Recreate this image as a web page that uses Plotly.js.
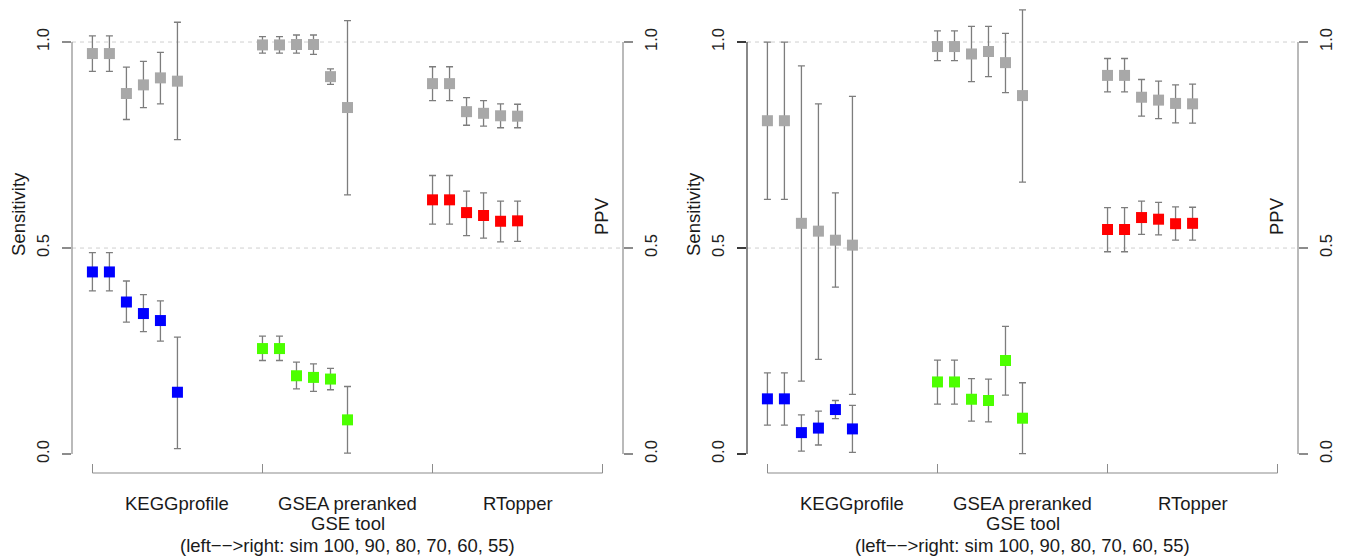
<!DOCTYPE html>
<html>
<head>
<meta charset="utf-8">
<script src="https://cdn.plot.ly/plotly-3.0.1.min.js"></script>
<style>html,body{margin:0;padding:0;background:#fff;}#chart{width:1346px;height:558px;}</style>
</head>
<body>
<div id="chart"></div>
<script>
// ---------- data ----------
const tools = ['KEGGprofile', 'GSEA preranked', 'RTopper'];
const simLevels = [100, 90, 80, 70, 60, 55];
const yTickVals = [0, 0.5, 1];
const yTickText = ['0.0', '0.5', '1.0'];
const gridVals = [0.5, 1.0];
const groupTickVals = [0, 10, 20, 30];
const yLeftTitle = 'Sensitivity';
const yRightTitle = 'PPV';
const xTitleLines = ['GSE tool', '(left\u2212\u2212>right: sim 100, 90, 80, 70, 60, 55)'];

// left panel (rows: KEGGprofile, GSEA preranked, RTopper; columns: sim 100..55)
const leftPpvMean = [[0.972,0.972,0.875,0.896,0.913,0.905],[0.993,0.993,0.994,0.994,0.916,0.841],[0.899,0.899,0.831,0.827,0.821,0.820]];
const leftPpvLow  = [[0.929,0.929,0.812,0.841,0.850,0.763],[0.973,0.973,0.973,0.970,0.897,0.629],[0.858,0.858,0.798,0.796,0.792,0.792]];
const leftPpvHigh = [[1.015,1.015,0.939,0.953,0.975,1.048],[1.013,1.013,1.017,1.017,0.935,1.052],[0.940,0.940,0.865,0.858,0.850,0.849]];
const leftSensMean = [[0.442,0.442,0.369,0.341,0.324,0.150],[0.256,0.256,0.190,0.186,0.182,0.083],[0.617,0.617,0.586,0.579,0.565,0.566]];
const leftSensLow  = [[0.396,0.396,0.320,0.297,0.274,0.013],[0.227,0.227,0.158,0.152,0.156,0.002],[0.558,0.558,0.530,0.524,0.515,0.516]];
const leftSensHigh = [[0.489,0.489,0.420,0.387,0.372,0.284],[0.286,0.286,0.223,0.219,0.208,0.164],[0.676,0.676,0.638,0.634,0.614,0.614]];

// right panel
const rightPpvMean = [[0.809,0.809,0.560,0.541,0.519,0.507],[0.989,0.989,0.971,0.977,0.950,0.870],[0.919,0.919,0.866,0.859,0.851,0.850]];
const rightPpvLow  = [[0.618,0.618,0.177,0.230,0.405,0.145],[0.955,0.955,0.904,0.916,0.877,0.660],[0.879,0.879,0.820,0.814,0.804,0.803]];
const rightPpvHigh = [[1.000,1.000,0.942,0.850,0.634,0.868],[1.027,1.027,1.038,1.038,1.021,1.078],[0.960,0.960,0.909,0.905,0.896,0.898]];
const rightSensMean = [[0.134,0.134,0.052,0.063,0.108,0.061],[0.175,0.175,0.133,0.130,0.227,0.087],[0.545,0.545,0.574,0.570,0.559,0.560]];
const rightSensLow  = [[0.070,0.070,0.007,0.022,0.086,0.004],[0.121,0.121,0.080,0.078,0.143,0.001],[0.491,0.491,0.533,0.532,0.519,0.519]];
const rightSensHigh = [[0.197,0.197,0.095,0.104,0.130,0.118],[0.228,0.228,0.183,0.182,0.310,0.173],[0.598,0.598,0.614,0.611,0.600,0.599]];

// ---------- styling ----------
const W = 1346, H = 558;
const FONT = 'Liberation Sans, Arial, sans-serif';
const ppvColor = '#a8a8a8';
const sensColors = ['#0000ff', '#4cff00', '#ff0000'];
const errColor = '#7d7d7d';
const axisGray = '#8c8c8c';
const plotTopPx = 0, plotBotPx = 473;
const yRange = [-0.046, 1.102];
const xRange = [-1.2, 31.2];
const panels = [
  {xa: 'x', ya: 'y', yr: 'y3', l: 72, r: 623, leftAxisColor: axisGray,
   ppv: [leftPpvMean, leftPpvLow, leftPpvHigh], sens: [leftSensMean, leftSensLow, leftSensHigh]},
  {xa: 'x2', ya: 'y2', yr: 'y4', l: 747, r: 1298, leftAxisColor: '#3a3a3a',
   ppv: [rightPpvMean, rightPpvLow, rightPpvHigh], sens: [rightSensMean, rightSensLow, rightSensHigh]}
];

function xPos(g, i) { return g * 10 + i; }

const traces = [];
const shapes = [];
const annotations = [];

panels.forEach((p, pi) => {
  // Sensitivity (coloured by tool) on the left axis
  tools.forEach((t, g) => {
    const sx = [], sy = [], su = [], sd = [];
    simLevels.forEach((s, i) => {
      sx.push(xPos(g, i));
      sy.push(p.sens[0][g][i]);
      su.push(p.sens[2][g][i] - p.sens[0][g][i]);
      sd.push(p.sens[0][g][i] - p.sens[1][g][i]);
    });
    traces.push({
      type: 'scatter', mode: 'markers', x: sx, y: sy, xaxis: p.xa, yaxis: p.ya,
      name: t + ' sensitivity', hoverinfo: 'x+y',
      marker: {symbol: 'square', size: 11, color: sensColors[g], line: {width: 0}},
      error_y: {type: 'data', symmetric: false, array: su, arrayminus: sd,
                color: errColor, thickness: 1.3, width: 3.5}
    });
  });
  // PPV (gray) on the right axis
  const px = [], py = [], pu = [], pd = [];
  tools.forEach((t, g) => simLevels.forEach((s, i) => {
    px.push(xPos(g, i));
    py.push(p.ppv[0][g][i]);
    pu.push(p.ppv[2][g][i] - p.ppv[0][g][i]);
    pd.push(p.ppv[0][g][i] - p.ppv[1][g][i]);
  }));
  traces.push({
    type: 'scatter', mode: 'markers', x: px, y: py, xaxis: p.xa, yaxis: p.yr,
    name: 'PPV', hoverinfo: 'x+y',
    marker: {symbol: 'square', size: 11, color: ppvColor, line: {width: 0}},
    error_y: {type: 'data', symmetric: false, array: pu, arrayminus: pd,
              color: errColor, thickness: 1.3, width: 3.5}
  });

  // dashed reference lines
  gridVals.forEach(v => shapes.push({
    type: 'line', layer: 'below', xref: p.xa + ' domain', yref: p.ya,
    x0: 0, x1: 1, y0: v, y1: v,
    line: {color: '#cfcfcf', width: 1, dash: '4px,4px'}
  }));
  // left and right axis lines (0..1 only)
  shapes.push({type: 'line', xref: 'paper', yref: p.ya, x0: p.l / W, x1: p.l / W,
    y0: yTickVals[0], y1: yTickVals[yTickVals.length - 1], line: {color: p.leftAxisColor, width: 1.2}});
  shapes.push({type: 'line', xref: 'paper', yref: p.ya, x0: p.r / W, x1: p.r / W,
    y0: yTickVals[0], y1: yTickVals[yTickVals.length - 1], line: {color: axisGray, width: 1.2}});
  // bottom bracket axis
  shapes.push({type: 'line', xref: p.xa, yref: 'paper', x0: groupTickVals[0],
    x1: groupTickVals[groupTickVals.length - 1], y0: 0, y1: 0, line: {color: axisGray, width: 1.2}});

  // titles
  annotations.push({xref: 'paper', yref: 'paper', x: (p.l - 54) / W, y: (plotBotPx - 214) / plotBotPx,
    text: yLeftTitle, textangle: -90, showarrow: false, xanchor: 'center', yanchor: 'middle',
    font: {family: FONT, size: 18.5, color: '#1a1a1a'}});
  annotations.push({xref: 'paper', yref: 'paper', x: (p.r - 21) / W, y: (plotBotPx - 216) / plotBotPx,
    text: yRightTitle, textangle: -90, showarrow: false, xanchor: 'center', yanchor: 'middle',
    font: {family: FONT, size: 18.5, color: '#1a1a1a'}});
  tools.forEach((t, g) => annotations.push({xref: p.xa, yref: 'paper',
    x: (groupTickVals[g] + groupTickVals[g + 1]) / 2, y: 0, yshift: -30,
    text: t, showarrow: false, xanchor: 'center', yanchor: 'middle',
    font: {family: FONT, size: 18.5, color: '#1a1a1a'}}));
  xTitleLines.forEach((line, k) => annotations.push({xref: p.xa, yref: 'paper',
    x: (groupTickVals[0] + groupTickVals[groupTickVals.length - 1]) / 2, y: 0, yshift: -50 - k * 22,
    text: line, showarrow: false, xanchor: 'center', yanchor: 'middle',
    font: {family: FONT, size: 18.5, color: '#1a1a1a'}}));
});

function yAx(extra) {
  return Object.assign({
    range: yRange, domain: [0, 1], tickvals: yTickVals, ticktext: yTickText,
    ticks: 'outside', ticklen: 9, tickwidth: 1.2, tickcolor: axisGray, tickangle: -90,
    ticklabelstandoff: 6,
    showgrid: false, zeroline: false, showline: false, fixedrange: true,
    tickfont: {family: FONT, size: 16.5, color: '#222'}
  }, extra);
}
function xAx(extra) {
  return Object.assign({
    range: xRange, tickvals: groupTickVals, showticklabels: false,
    ticks: 'inside', ticklen: 9, tickwidth: 1.2, tickcolor: axisGray,
    showgrid: false, zeroline: false, showline: false, fixedrange: true
  }, extra);
}

const layout = {
  width: W, height: H,
  margin: {l: 0, r: 0, t: plotTopPx, b: H - plotBotPx, pad: 0},
  paper_bgcolor: '#ffffff', plot_bgcolor: '#ffffff',
  showlegend: false,
  font: {family: FONT, color: '#1a1a1a'},
  xaxis: xAx({domain: [72 / W, 623 / W], anchor: 'y'}),
  xaxis2: xAx({domain: [747 / W, 1298 / W], anchor: 'y2'}),
  yaxis: yAx({anchor: 'x', tickcolor: axisGray}),
  yaxis2: yAx({anchor: 'x2', tickcolor: '#3a3a3a'}),
  yaxis3: yAx({anchor: 'x', overlaying: 'y', side: 'right', ticklabelstandoff: 4}),
  yaxis4: yAx({anchor: 'x2', overlaying: 'y2', side: 'right', ticklabelstandoff: 4}),
  shapes: shapes,
  annotations: annotations
};

Plotly.newPlot('chart', traces, layout, {displayModeBar: false, staticPlot: true});
</script>
</body>
</html>
